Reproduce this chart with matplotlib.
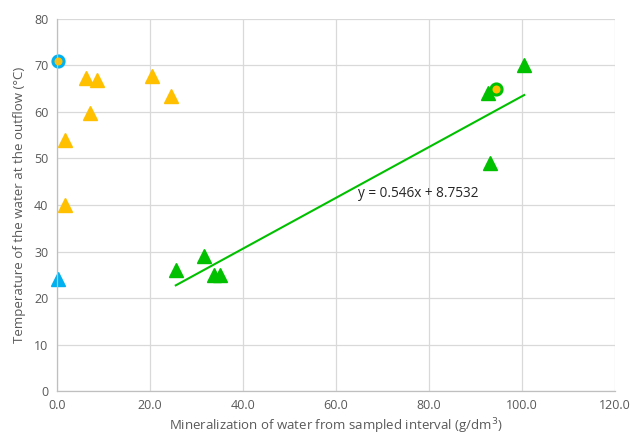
import numpy as np
import matplotlib
matplotlib.use("Agg")
import matplotlib.pyplot as plt

plt.rcParams['font.family'] = ['Open Sans', 'DejaVu Sans']

# orange triangles
orange_x = [1.7, 1.7, 6.3, 8.6, 7.1, 20.5, 24.6]
orange_y = [54.0, 40.0, 67.2, 66.8, 59.8, 67.8, 63.5]

# blue triangle + blue circle (orange fill)
blue_tri_x = [0.2]
blue_tri_y = [24.0]
blue_circ_x = [0.3]
blue_circ_y = [71.0]

# green triangles + green circle
green_x = [25.6, 31.7, 33.9, 35.0, 92.7, 93.1, 100.5]
green_y = [26.0, 29.0, 25.0, 25.0, 64.0, 49.0, 70.0]
green_circ_x = [94.4]
green_circ_y = [65.0]

slope, intercept = 0.546, 8.7532

ORANGE = '#FFC000'
BLUE = '#00B0F0'
GREEN = '#00C000'

fig = plt.figure(figsize=(6.3, 4.38), dpi=100)
ax = fig.add_axes([0.090, 0.107, 0.886, 0.850])

ax.plot(orange_x, orange_y, '^', color=ORANGE, markersize=10, linestyle='none')
ax.plot(blue_tri_x, blue_tri_y, '^', color=BLUE, markersize=10, linestyle='none', clip_on=False)
ax.plot(green_x, green_y, '^', color=GREEN, markersize=10, linestyle='none')
ax.plot(blue_circ_x, blue_circ_y, 'o', markerfacecolor=ORANGE, markeredgecolor=BLUE,
        markersize=8, markeredgewidth=2.2, linestyle='none', clip_on=False)
ax.plot(green_circ_x, green_circ_y, 'o', markerfacecolor=ORANGE, markeredgecolor=GREEN,
        markersize=8, markeredgewidth=2.2, linestyle='none')

# linear trendline over the green triangles
tx = np.array([min(green_x), max(green_x)])
ax.plot(tx, slope * tx + intercept, color=GREEN, linewidth=1.5)
ax.text(64.8, 42.4, 'y = 0.546x + 8.7532', fontsize=9.8, color='#262626', va='center')

ax.set_xlim(0, 120)
ax.set_ylim(0, 80)
ax.set_xticks(np.arange(0, 121, 20))
ax.set_xticklabels([f'{v:.1f}' for v in np.arange(0, 121, 20)])
ax.set_yticks(np.arange(0, 81, 10))
ax.grid(True, color='#D9D9D9', linewidth=0.9)
ax.set_axisbelow(True)

for s in ['top', 'right']:
    ax.spines[s].set_visible(False)
for s in ['left', 'bottom']:
    ax.spines[s].set_color('#BFBFBF')
    ax.spines[s].set_linewidth(0.9)
ax.tick_params(length=0, labelsize=9, labelcolor='#595959', pad=6)

ax.set_xlabel('Mineralization of water from sampled interval (g/dm$^3$)', fontsize=9.5, color='#595959', labelpad=3)
ax.set_ylabel('Temperature of the water at the outflow (°C)', fontsize=9.5, color='#595959', labelpad=6)

fig.savefig('out.png', dpi=100)
